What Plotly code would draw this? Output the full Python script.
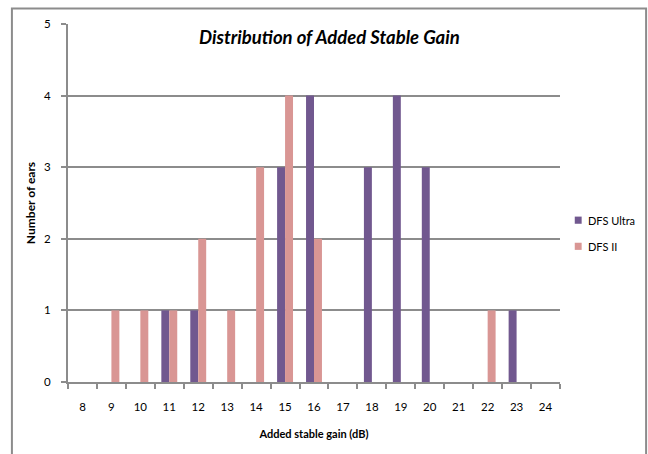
import plotly.graph_objects as go

# Added stable gain bins (dB) and number of ears per hearing-aid type
gain_bins = ["8", "9", "10", "11", "12", "13", "14", "15", "16",
             "17", "18", "19", "20", "21", "22", "23", "24"]
dfs_ultra = [0, 0, 0, 1, 1, 0, 0, 3, 4, 0, 3, 4, 3, 0, 0, 1, 0]
dfs_ii = [0, 1, 1, 1, 2, 1, 3, 4, 2, 0, 0, 0, 0, 0, 1, 0, 0]
y_ticks = [0, 1, 2, 3, 4, 5]

series = [("DFS Ultra", dfs_ultra, "#71588f"),
          ("DFS II", dfs_ii, "#d99694")]

FONT = "Lato, Open Sans, sans-serif"
GRID = "#8c8c8c"

fig = go.Figure()
for name, values, color in series:
    fig.add_trace(go.Bar(x=gain_bins, y=values, name=name,
                         marker=dict(color=color, line=dict(width=0))))

fig.update_layout(
    width=648, height=454,
    margin=dict(l=68, r=88, t=24, b=72),
    paper_bgcolor="white", plot_bgcolor="white",
    barmode="group", bargap=0.45, bargroupgap=0,
    font=dict(family=FONT, size=11.5, color="#000000"),
    showlegend=False,
)

fig.update_xaxes(
    type="category", categoryorder="array", categoryarray=gain_bins,
    showgrid=False, showline=True, linecolor=GRID, linewidth=2,
    ticks="outside", tickson="boundaries", ticklen=5, tickwidth=1.5,
    tickcolor=GRID, ticklabelstandoff=13, automargin=False,
    title=dict(text="<b>Added stable gain (dB)</b>", standoff=19,
               font=dict(size=11)),
)
fig.update_yaxes(
    range=[0, 5], tickvals=y_ticks, showgrid=True, gridcolor=GRID,
    gridwidth=2, showline=True, linecolor=GRID, linewidth=2,
    ticks="outside", ticklen=5, tickwidth=1.5, tickcolor=GRID,
    zeroline=False, ticklabelstandoff=8, automargin=False,
    title=dict(text="<b>Number of ears</b>", standoff=6,
               font=dict(size=12)),
)

# Chart title inside the plot area
fig.add_annotation(
    text="<b><i>Distribution of Added Stable Gain</i></b>",
    xref="paper", yref="paper", x=0.532, y=0.965,
    xanchor="center", yanchor="middle", showarrow=False,
    font=dict(family=FONT, size=18.5, color="#000000"),
)

# Legend: small colour squares with series names, right of the plot
for i, (name, _, color) in enumerate(series):
    y_mid = 0.452 - i * 0.073
    fig.add_shape(type="rect", xref="paper", yref="paper",
                  x0=1.03, x1=1.044, y0=y_mid - 0.01, y1=y_mid + 0.01,
                  fillcolor=color, line=dict(width=0))
    fig.add_annotation(text=name, xref="paper", yref="paper",
                       x=1.052, y=y_mid, xanchor="left", yanchor="middle",
                       showarrow=False, font=dict(family=FONT, size=11))

# Outer chart frame
fig.add_shape(type="rect", xref="paper", yref="paper",
              x0=-0.114, x1=1.175, y0=-0.35, y1=1.043,
              line=dict(color=GRID, width=2), layer="below")

fig.write_html("out.html")
